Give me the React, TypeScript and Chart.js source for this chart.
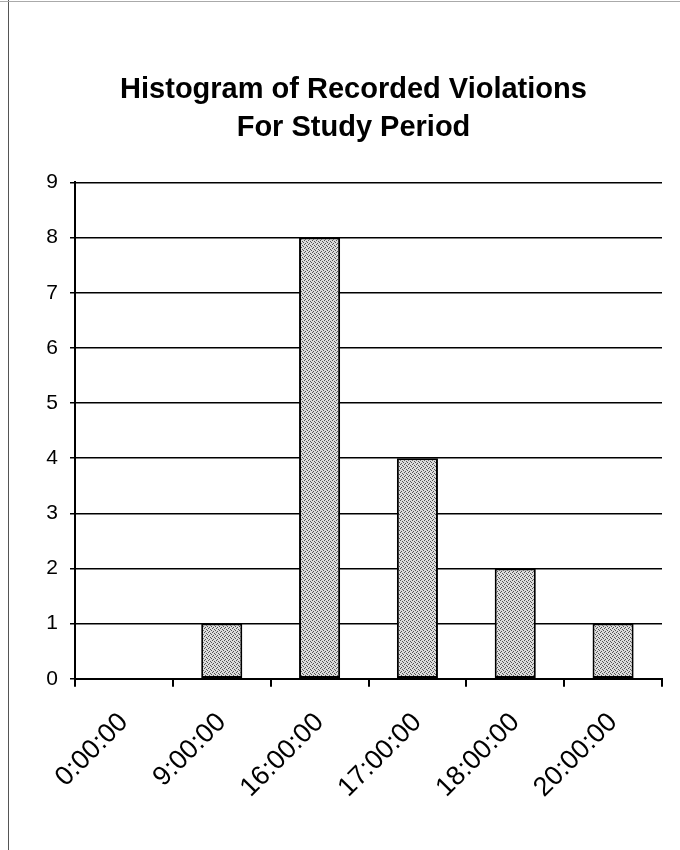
import { useEffect, useRef } from "react";
import { Chart, registerables } from "chart.js";

Chart.register(...registerables);

const categories = ["0:00:00", "9:00:00", "16:00:00", "17:00:00", "18:00:00", "20:00:00"];
const violations = [0, 1, 8, 4, 2, 1];
const titleLines = ["Histogram of Recorded Violations", "For Study Period"];
const yMin = 0;
const yMax = 9;
const yStep = 1;

const FONT = "'Liberation Sans', Arial, Helvetica, sans-serif";

export default function App() {
  const ref = useRef<HTMLCanvasElement>(null);

  useEffect(() => {
    document.body.style.margin = "0";
    const canvas = ref.current!;
    const pc = document.createElement("canvas");
    pc.width = 4;
    pc.height = 4;
    const pctx = pc.getContext("2d")!;
    pctx.fillStyle = "#dcdcdc";
    pctx.fillRect(0, 0, 4, 4);
    pctx.fillStyle = "#555555";
    [[0, 0], [2, 1], [1, 3], [3, 2]].forEach(([x, y]) => pctx.fillRect(x, y, 1, 1));
    const pattern = canvas.getContext("2d")!.createPattern(pc, "repeat");

    const borderPlugin = {
      id: "pageBorder",
      afterDraw(chart: any) {
        const c = chart.ctx;
        c.save();
        c.strokeStyle = "#555";
        c.lineWidth = 1;
        c.beginPath();
        c.moveTo(8.5, 0);
        c.lineTo(8.5, chart.height);
        c.stroke();
        c.strokeStyle = "#aaa";
        c.beginPath();
        c.moveTo(0, 1.5);
        c.lineTo(chart.width, 1.5);
        c.stroke();
        c.restore();
      },
    };

    const chart = new Chart(canvas, {
      type: "bar",
      data: {
        labels: categories,
        datasets: [
          {
            data: violations,
            backgroundColor: pattern as any,
            borderColor: "#000",
            borderWidth: 2,
            borderSkipped: false,
            barPercentage: 0.42,
            categoryPercentage: 1,
          },
        ],
      },
      options: {
        responsive: false,
        animation: false,
        devicePixelRatio: 1,
        layout: { padding: { left: 45, right: 18, top: 0, bottom: 26 } },
        plugins: {
          legend: { display: false },
          tooltip: { enabled: false },
          title: {
            display: true,
            text: titleLines,
            color: "#000",
            font: { family: FONT, size: 29, weight: "bold", lineHeight: 1.3 },
            padding: { top: 71, bottom: 36 },
          },
        },
        scales: {
          x: {
            offset: true,
            grid: {
              offset: true,
              drawOnChartArea: false,
              drawTicks: true,
              tickLength: 8,
              color: "#000",
              lineWidth: 2,
            },
            border: { color: "#000", width: 2 },
            ticks: {
              color: "#000",
              font: { family: FONT, size: 27 },
              maxRotation: 45,
              minRotation: 45,
              padding: 20,
            },
          },
          y: {
            min: yMin,
            max: yMax,
            afterFit: (scale: any) => {
              scale.width = 30;
            },
            ticks: { stepSize: yStep, color: "#000", font: { family: FONT, size: 21 }, padding: 12 },
            grid: { color: "#000", lineWidth: 1.5, tickLength: 5 },
            border: { color: "#000", width: 2 },
          },
        },
      },
      plugins: [borderPlugin],
    });
    return () => chart.destroy();
  }, []);

  return <canvas ref={ref} width={680} height={850} style={{ display: "block" }} />;
}
